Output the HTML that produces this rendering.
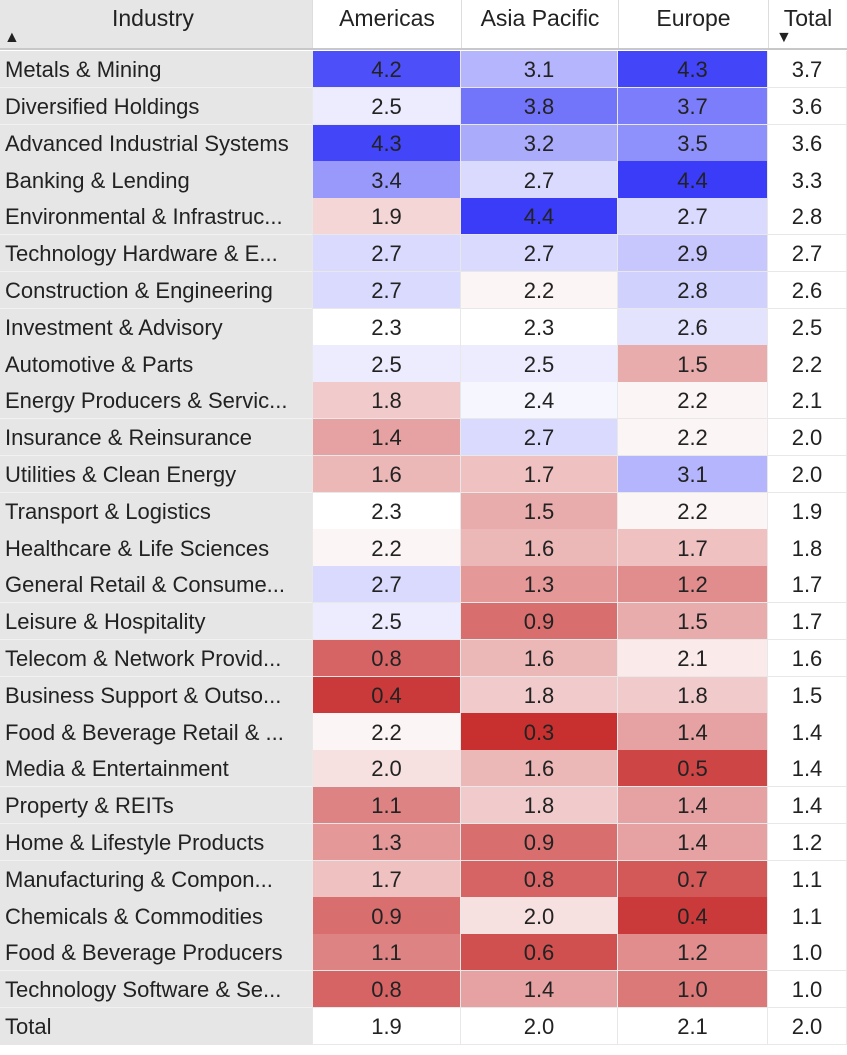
<!DOCTYPE html>
<html><head><meta charset="utf-8"><style>
body{margin:0;width:847px;height:1055px;background:#fff;font-family:"Liberation Sans",sans-serif;color:#222;overflow:hidden;position:relative}
.c{position:absolute;box-sizing:border-box;display:flex;align-items:center;font-size:22px;white-space:nowrap;overflow:hidden;padding-top:2px}
.n{justify-content:center}
</style></head><body>
<div id="grid"></div>
<script>
const industries=["Metals & Mining","Diversified Holdings","Advanced Industrial Systems","Banking & Lending","Environmental & Infrastruc...","Technology Hardware & E...","Construction & Engineering","Investment & Advisory","Automotive & Parts","Energy Producers & Servic...","Insurance & Reinsurance","Utilities & Clean Energy","Transport & Logistics","Healthcare & Life Sciences","General Retail & Consume...","Leisure & Hospitality","Telecom & Network Provid...","Business Support & Outso...","Food & Beverage Retail & ...","Media & Entertainment","Property & REITs","Home & Lifestyle Products","Manufacturing & Compon...","Chemicals & Commodities","Food & Beverage Producers","Technology Software & Se..."];
const americas=[4.2,2.5,4.3,3.4,1.9,2.7,2.7,2.3,2.5,1.8,1.4,1.6,2.3,2.2,2.7,2.5,0.8,0.4,2.2,2.0,1.1,1.3,1.7,0.9,1.1,0.8];
const asiaPacific=[3.1,3.8,3.2,2.7,4.4,2.7,2.2,2.3,2.5,2.4,2.7,1.7,1.5,1.6,1.3,0.9,1.6,1.8,0.3,1.6,1.8,0.9,0.8,2.0,0.6,1.4];
const europe=[4.3,3.7,3.5,4.4,2.7,2.9,2.8,2.6,1.5,2.2,2.2,3.1,2.2,1.7,1.2,1.5,2.1,1.8,1.4,0.5,1.4,1.4,0.7,0.4,1.2,1.0];
const totals=[3.7,3.6,3.6,3.3,2.8,2.7,2.6,2.5,2.2,2.1,2.0,2.0,1.9,1.8,1.7,1.7,1.6,1.5,1.4,1.4,1.4,1.2,1.1,1.1,1.0,1.0];
const columnTotals=[1.9,2.0,2.1,2.0];
const headers=["Americas","Asia Pacific","Europe","Total"];
const g=document.getElementById('grid');
const colX=[0,312,461,618,768,847];
const top0=51,rh=36.8;
function color(v){const mid=2.3;let t;
 if(v>=mid){t=Math.min(1,(v-mid)/2.1);return `rgb(${Math.round(255-197*t)},${Math.round(255-195*t)},${Math.round(255-7*t)})`;}
 t=Math.min(1,(mid-v)/2.0);return `rgb(${Math.round(255-55*t)},${Math.round(255-207*t)},${Math.round(255-207*t)})`;}
function cell(x,y,w,h,txt,cls,bg,name){const d=document.createElement('div');d.className='c '+cls;
 d.style.left=x+'px';d.style.top=y+'px';d.style.width=w+'px';d.style.height=h+'px';d.style.background=bg;d.textContent=txt;
 
 
 g.appendChild(d);return d;}
const hi=cell(0,0,312,49,'', '', '#e6e6e6','industry-header');

hi.innerHTML='<span style="position:absolute;left:112px;top:5px;font-size:23px">Industry</span><span style="position:absolute;left:4px;top:29px;font-size:16px">&#9650;</span>';
for(let i=0;i<4;i++){const h=cell(colX[i+1],0,colX[i+2]-colX[i+1],49,'', '', '#fff','column-header-'+headers[i].toLowerCase().replace(' ','-'));
 
 h.style.borderLeft='1px solid #ddd';
 h.innerHTML='<span style="position:absolute;top:5px;width:100%;text-align:center;font-size:23px">'+headers[i]+'</span>'+(i==3?'<span style="position:absolute;left:7px;top:29px;font-size:16px">&#9660;</span>':'');}
const line=document.createElement('div');line.style.cssText='position:absolute;left:0;top:48px;width:847px;height:2px;background:#c8c8c8';


g.appendChild(line);
const series=[americas,asiaPacific,europe];
for(let r=0;r<=industries.length;r++){
 const y=top0+r*rh;const isT=r==industries.length;
 const lab=cell(0,y,312,rh+0.5,isT?'Total':industries[r],'', '#e6e6e6','row-label');
 lab.style.paddingLeft='5px';lab.style.borderBottom=isT?'none':'1px solid #f2f2f2';
 for(let c=0;c<4;c++){
  const v=isT?columnTotals[c]:(c<3?series[c][r]:totals[r]);
  const bg=(isT||c==3)?'#fff':color(v);
  const d=cell(colX[c+1],y,colX[c+2]-colX[c+1],rh+0.5,v.toFixed(1),'n',bg,isT?'total-cell':(c==3?'row-total-cell':'heatmap-cell'));
  d.style.border='1px solid #e8e8e8';d.style.borderTop='none';if(c>0)d.style.borderLeft='none';
 }
}
</script>
</body></html>
